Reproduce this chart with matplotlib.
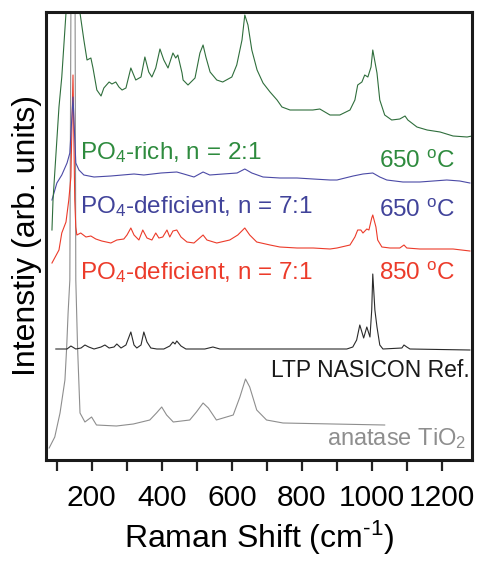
import matplotlib
matplotlib.use("Agg")
import matplotlib.pyplot as plt

plt.rcParams['font.family'] = ['Liberation Sans', 'DejaVu Sans']
plt.rcParams['mathtext.fontset'] = 'custom'
plt.rcParams['mathtext.rm'] = 'Liberation Sans'
plt.rcParams['mathtext.it'] = 'Liberation Sans:italic'
plt.rcParams['mathtext.bf'] = 'Liberation Sans:bold'

# ---- data (Raman shift in cm^-1, intensity in arbitrary offset units) ----
green_x = [87, 90, 107, 115, 127, 147, 167, 178, 187, 198, 204, 215, 227, 235, 250, 258, 269, 278,
           287, 298, 312, 326, 341, 352, 363, 372, 383, 395, 406, 418, 432, 440, 446, 458, 461, 475,
           495, 509, 518, 526, 538, 557, 574, 600, 614, 629, 637, 646, 657, 672, 689, 709, 729, 743,
           766, 794, 831, 851, 880, 908, 937, 951, 959, 971, 979, 988, 997, 1002, 1014, 1022, 1036,
           1056, 1079, 1094, 1102, 1128, 1157, 1194, 1231, 1271, 1285]
green_y = [230, 260, 353, 383, 447, 560, 447, 420, 400, 402, 392, 370, 364, 372, 378, 376, 378, 373,
           370, 372, 392, 380, 383, 403, 388, 383, 392, 411, 400, 392, 407, 402, 405, 387, 380, 375,
           382, 407, 415, 403, 388, 380, 378, 383, 395, 420, 445, 435, 410, 390, 377, 368, 360, 353,
           350, 350, 350, 351, 345, 345, 350, 360, 375, 378, 385, 383, 393, 410, 387, 360, 345,
           340, 341, 344, 340, 333, 330, 328, 324, 323, 324]

blue_x = [87, 101, 115, 130, 138, 147, 155, 164, 178, 207, 255, 321, 349, 398, 443, 463, 492, 518,
          537, 575, 615, 637, 657, 689, 737, 786, 832, 880, 900, 946, 974, 1002, 1022, 1042, 1088,
          1136, 1213, 1250, 1279]
blue_y = [260, 277, 285, 297, 307, 363, 297, 290, 285, 283, 284, 286, 285, 287, 288, 286, 283, 288,
          285, 286, 287, 291, 287, 283, 282, 282, 281, 280, 280, 284, 286, 287, 283, 280, 278,
          278, 280, 279, 277]

red_x = [87, 107, 115, 127, 135, 141, 147, 152, 155, 158, 169, 184, 198, 212, 229, 255, 272, 292,
         301, 312, 321, 335, 346, 358, 372, 383, 392, 403, 415, 423, 432, 443, 455, 472, 492, 518,
         529, 557, 594, 617, 637, 651, 671, 709, 737, 786, 832, 880, 900, 937, 951, 959, 968, 974,
         985, 991, 999, 1002, 1011, 1016, 1028, 1051, 1079, 1091, 1099, 1136, 1231, 1279]
red_y = [197, 210, 227, 238, 260, 283, 385, 260, 233, 225, 227, 223, 224, 221, 219, 217, 220, 221,
         225, 232, 225, 220, 230, 222, 220, 227, 222, 223, 230, 223, 229, 230, 223, 218, 217, 225,
         220, 217, 220, 225, 232, 225, 218, 215, 213, 212, 212, 211, 212, 215, 223, 230, 230, 227,
         231, 230, 242, 245, 233, 220, 213, 212, 212, 215, 212, 211, 211, 209]

black_x = [98, 130, 141, 155, 170, 181, 192, 207, 227, 238, 250, 264, 272, 284, 298, 312, 321, 329,
           341, 349, 358, 369, 386, 406, 423, 432, 438, 443, 455, 469, 492, 523, 546, 566, 928, 945,
           956, 965, 976, 985, 994, 999, 1002, 1008, 1014, 1022, 1031, 1085, 1091, 1099, 1108, 1279]
black_y = [111, 111, 114, 111, 112, 115, 113, 111, 113, 115, 112, 113, 116, 112, 115, 128, 115, 112,
           115, 128, 118, 112, 111, 111, 114, 118, 116, 119, 114, 111, 111, 111, 113, 111, 111, 113,
           120, 135, 122, 133, 123, 150, 186, 150, 133, 115, 111, 112, 115, 113, 111, 110]

gray_x = [79, 95, 110, 124, 129, 133, 138, 141, 147, 153, 155, 160, 167, 181, 200, 214, 271, 319,
          366, 385, 400, 414, 433, 480, 499, 518, 533, 556, 604, 623, 639, 651, 671, 699, 746, 889,
          1036]
gray_y = [12, 23, 47, 80, 113, 147, 180, 448, 1200, 448, 180, 113, 47, 38, 43, 35, 34, 36,
          40, 47, 53, 45, 38, 40, 48, 57, 52, 40, 45, 63, 81, 73, 50, 40, 37, 36,
          35]

major_ticks = [200, 400, 600, 800, 1000, 1200]
minor_ticks = [100, 300, 500, 700, 900, 1100]
tick_labels = ['200', '400', '600', '800', '1000', '1200']

# ---- figure ----
fig = plt.figure(figsize=(4.8, 5.61), dpi=100)
ax = fig.add_axes([46 / 480, 1 - 460 / 561, 426 / 480, 448 / 561])

c_green_line = '#2f6e3c'
c_green_txt = '#2e8b3e'
c_blue_line = '#4b4aa6'
c_blue_txt = '#41439a'
c_red = '#ec3b2a'
c_black = '#2a2a2a'
c_gray = '#8e8e8e'

ax.plot(gray_x, gray_y, color=c_gray, lw=0.8)
ax.plot(black_x, black_y, color=c_black, lw=0.8)
ax.plot(red_x, red_y, color=c_red, lw=0.8)
ax.plot(blue_x, blue_y, color=c_blue_line, lw=0.8)
ax.plot(green_x, green_y, color=c_green_line, lw=0.8)

ax.set_xlim(70, 1285)
ax.set_ylim(0, 448)
ax.set_yticks([])
ax.set_xticks(major_ticks)
ax.set_xticklabels(tick_labels)
ax.set_xticks(minor_ticks, minor=True)
ax.tick_params(axis='x', which='both', direction='out', length=8, width=1.6,
               color='#222222', labelsize=21.5, pad=9)
for s in ax.spines.values():
    s.set_linewidth(2.2)
    s.set_color('#1a1a1a')

ax.set_xlabel('Raman Shift (cm$^{\\text{-1}}$)', fontsize=23, labelpad=5)
ax.set_ylabel('Intenstiy (arb. units)', fontsize=23, labelpad=3)

fs = 17.5
ax.text(167, 301, 'PO$_\\mathregular{4}$-rich, n = 2:1', color=c_green_txt, fontsize=fs,
        ha='left', va='baseline')
ax.text(1236, 292, '650 $^\\mathregular{o}$C', color=c_green_txt, fontsize=fs,
        ha='right', va='baseline')
ax.text(167, 247, 'PO$_\\mathregular{4}$-deficient, n = 7:1', color=c_blue_txt, fontsize=fs,
        ha='left', va='baseline')
ax.text(1236, 243, '650 $^\\mathregular{o}$C', color=c_blue_txt, fontsize=fs,
        ha='right', va='baseline')
ax.text(167, 181, 'PO$_\\mathregular{4}$-deficient, n = 7:1', color=c_red, fontsize=fs,
        ha='left', va='baseline')
ax.text(1236, 180, '850 $^\\mathregular{o}$C', color=c_red, fontsize=fs,
        ha='right', va='baseline')
ax.text(1279, 83, 'LTP NASICON Ref.', color='#1a1a1a', fontsize=16.5,
        ha='right', va='baseline')
ax.text(1270, 15, 'anatase TiO$_\\mathregular{2}$', color=c_gray, fontsize=17,
        ha='right', va='baseline')

fig.savefig('out.png', dpi=100)
